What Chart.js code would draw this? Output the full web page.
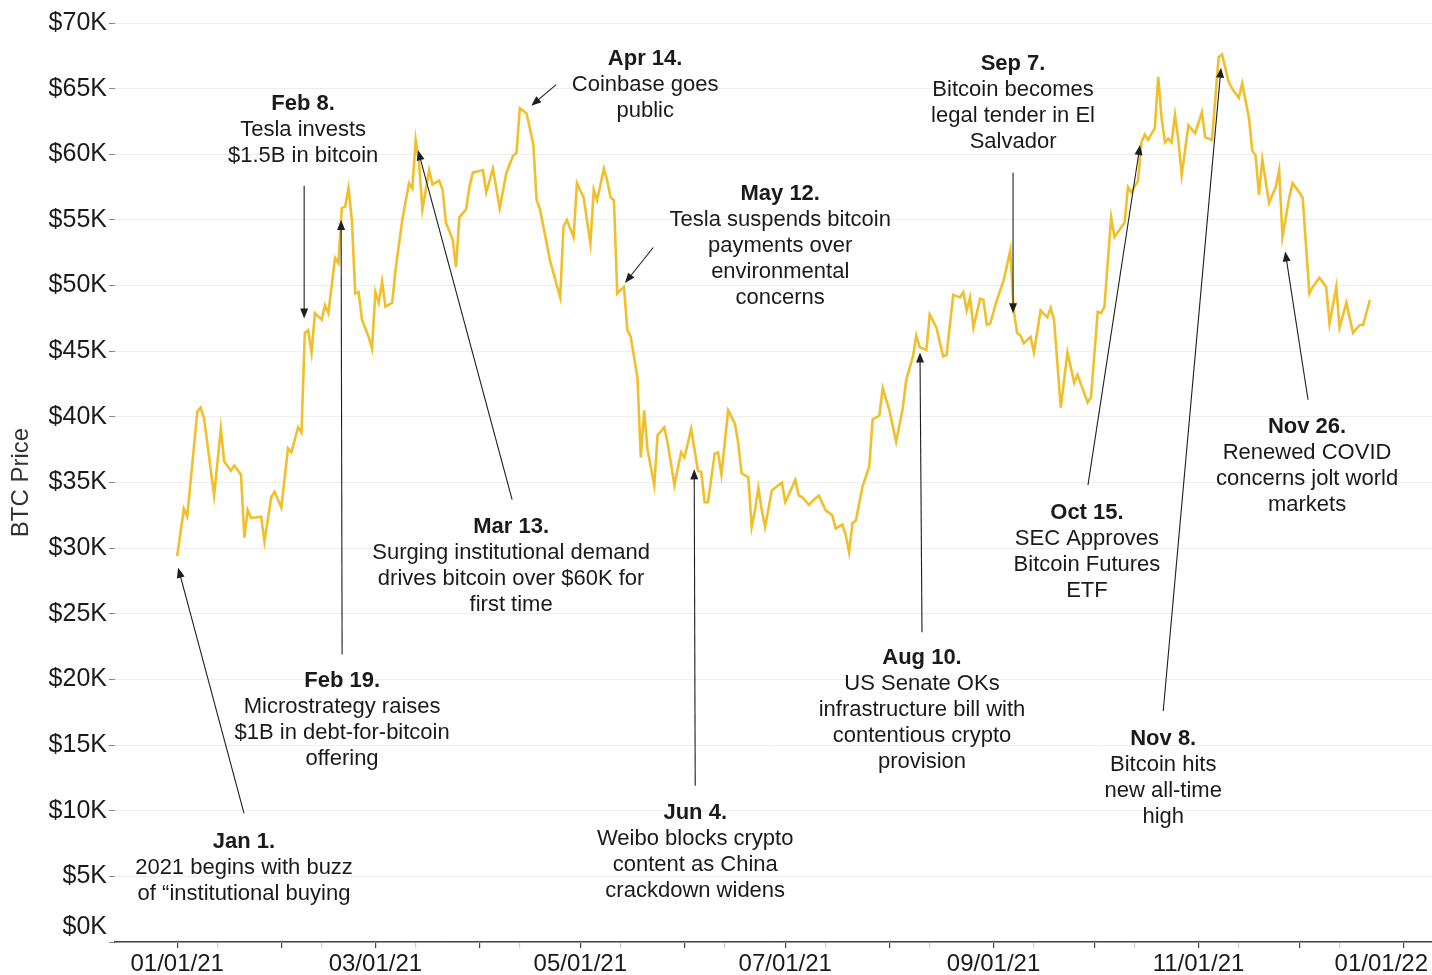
<!DOCTYPE html>
<html>
<head>
<meta charset="utf-8">
<title>BTC Price 2021</title>
<script src="https://cdn.jsdelivr.net/npm/chart.js@4.4.1/dist/chart.umd.min.js"></script>
<style>
  html, body { margin: 0; padding: 0; background: #fff; }
  #chart { display: block; }
</style>
</head>
<body>
<canvas id="chart" width="1432" height="975"></canvas>
<script>
// BTC price through 2021 (thousands of USD)
const dates = [
  '01-01','01-03','01-04','01-07','01-08','01-09','01-12','01-14','01-15','01-17','01-18','01-20','01-21','01-22','01-23','01-26','01-27','01-29','01-30',
  '02-01','02-03','02-04','02-06','02-07','02-08','02-09','02-10','02-11','02-13','02-14','02-15','02-17','02-18','02-19','02-20','02-21','02-22','02-23','02-24','02-25','02-27','02-28',
  '03-01','03-02','03-03','03-04','03-06','03-07','03-09','03-11','03-12','03-13','03-14','03-15','03-17','03-18','03-20','03-21','03-22','03-24','03-25','03-26','03-28','03-29','03-30',
  '04-02','04-03','04-05','04-07','04-09','04-11','04-12','04-13','04-15','04-17','04-18','04-19','04-22','04-25','04-26','04-27','04-29','04-30',
  '05-02','05-04','05-05','05-06','05-08','05-09','05-10','05-11','05-12','05-14','05-15','05-16','05-18','05-19','05-20','05-21','05-23','05-24','05-26','05-27','05-29','05-31',
  '06-01','06-03','06-05','06-06','06-07','06-08','06-10','06-11','06-12','06-14','06-16','06-17','06-18','06-20','06-21','06-22','06-23','06-24','06-25','06-27','06-28','06-30',
  '07-01','07-04','07-05','07-06','07-08','07-10','07-11','07-13','07-15','07-16','07-18','07-19','07-20','07-21','07-22','07-24','07-26','07-27','07-29','07-30',
  '08-01','08-03','08-05','08-06','08-08','08-09','08-10','08-12','08-13','08-15','08-17','08-18','08-20','08-22','08-23','08-24','08-25','08-26','08-28','08-29','08-30','08-31',
  '09-02','09-04','09-06','09-07','09-08','09-09','09-10','09-12','09-13','09-15','09-17','09-18','09-19','09-21','09-23','09-25','09-26','09-29','09-30',
  '10-02','10-03','10-04','10-06','10-07','10-10','10-11','10-12','10-14','10-15','10-16','10-17','10-19','10-20','10-21','10-22','10-23','10-24','10-25','10-26','10-27','10-29','10-31',
  '11-02','11-03','11-05','11-07','11-08','11-10','11-11','11-13','11-14','11-16','11-17','11-18','11-19','11-20','11-22','11-24','11-25','11-26','11-28','11-29',
  '12-01','12-02','12-04','12-05','12-07','12-09','12-10','12-12','12-13','12-15','12-17','12-19','12-20','12-22'
];
const priceK = [
  29.4,33.0,32.4,40.4,40.7,39.9,34.0,39.1,36.6,35.9,36.3,35.6,30.8,32.9,32.3,32.4,30.5,33.9,34.3,
  33.1,37.6,37.3,39.2,38.8,46.4,46.6,44.9,47.9,47.4,48.5,47.9,52.1,51.7,55.9,56.0,57.4,55.0,49.4,49.5,47.4,46.1,45.2,
  49.5,48.7,50.3,48.4,48.7,51.2,55.0,57.8,57.4,61.1,59.3,55.8,58.8,57.7,58.0,57.3,54.8,53.5,51.4,55.2,55.8,57.5,58.6,
  58.8,57.1,58.9,55.9,58.6,59.9,60.1,63.5,63.1,60.8,56.5,55.8,51.9,49.1,54.5,55.0,53.7,57.8,
  56.7,53.2,57.3,56.5,58.9,58.0,56.7,56.5,49.4,49.9,46.6,46.1,43.0,36.9,40.5,37.5,34.8,38.6,39.2,38.0,34.8,37.3,
  36.9,39.1,35.9,35.8,33.5,33.5,37.2,37.3,35.6,40.5,39.5,38.0,35.7,35.4,31.6,32.9,34.6,32.9,31.6,34.4,34.6,35.0,
  33.5,35.2,34.0,33.9,33.3,33.8,34.0,32.9,32.5,31.5,31.8,31.0,29.7,31.9,32.1,34.7,36.2,39.8,40.1,42.2,
  40.5,38.1,40.7,42.8,44.6,46.2,45.3,45.1,47.8,46.8,44.6,44.7,49.3,49.1,49.5,48.1,49.1,46.8,49.0,48.9,47.0,47.1,
  48.9,50.4,52.7,48.1,46.4,46.2,45.6,46.1,44.9,48.1,47.6,48.3,47.4,40.7,44.9,42.6,43.2,41.1,41.5,
  48.0,47.9,48.4,55.2,53.7,54.8,57.5,57.1,58.0,60.9,61.5,61.1,62.0,65.9,62.8,60.9,61.2,60.9,63.0,61.1,58.4,62.2,61.6,
  63.2,61.3,61.1,67.4,67.6,65.5,65.0,64.3,65.4,62.8,60.3,59.9,56.9,59.6,56.3,57.5,58.8,53.7,56.7,57.8,
  57.1,56.7,49.4,49.9,50.6,49.9,47.1,49.9,46.8,48.7,46.4,47.0,47.0,48.9
];

const xTickLabels = ['01/01/21', '03/01/21', '05/01/21', '07/01/21', '09/01/21', '11/01/21', '01/01/22'];

const eventTitles = ['Jan 1.', 'Feb 8.', 'Feb 19.', 'Mar 13.', 'Apr 14.', 'May 12.',
  'Jun 4.', 'Aug 10.', 'Sep 7.', 'Oct 15.', 'Nov 8.', 'Nov 26.'];
const eventTexts = [
  ['2021 begins with buzz', 'of \u201cinstitutional buying'],
  ['Tesla invests', '$1.5B in bitcoin'],
  ['Microstrategy raises', '$1B in debt-for-bitcoin', 'offering'],
  ['Surging institutional demand', 'drives bitcoin over $60K for', 'first time'],
  ['Coinbase goes', 'public'],
  ['Tesla suspends bitcoin', 'payments over', 'environmental', 'concerns'],
  ['Weibo blocks crypto', 'content as China', 'crackdown widens'],
  ['US Senate OKs', 'infrastructure bill with', 'contentious crypto', 'provision'],
  ['Bitcoin becomes', 'legal tender in El', 'Salvador'],
  ['SEC Approves', 'Bitcoin Futures', 'ETF'],
  ['Bitcoin hits', 'new all-time', 'high'],
  ['Renewed COVID', 'concerns jolt world', 'markets']
];

// callout layout in chart units [day of 2021, $K]: text anchor, arrow tail, arrow head
const calloutPos = [
  { label: [19.9, 7.6],   tail: [19.9, 9.8],   head: [0.3, 28.5] },
  { label: [37.5, 63.8],  tail: [37.8, 57.6],  head: [37.8, 47.5] },
  { label: [49.1, 19.9],  tail: [49.1, 21.9],  head: [48.8, 55.0] },
  { label: [99.4, 31.6],  tail: [99.7, 33.7],  head: [71.7, 60.3] },
  { label: [139.3, 67.3], tail: [112.8, 65.3], head: [105.4, 63.7] },
  { label: [179.5, 57.0], tail: [141.7, 52.9], head: [133.3, 50.2] },
  { label: [154.2, 9.8],  tail: [154.2, 11.9], head: [153.9, 36.0] },
  { label: [221.7, 21.6], tail: [221.7, 23.6], head: [221.1, 44.9] },
  { label: [248.8, 66.9], tail: [248.8, 58.6], head: [248.8, 47.9] },
  { label: [270.8, 32.7], tail: [271.1, 34.8], head: [286.6, 60.7] },
  { label: [293.5, 15.5], tail: [293.5, 17.6], head: [310.7, 66.6] },
  { label: [336.3, 39.2], tail: [336.6, 41.3], head: [329.8, 52.6] }
];

const FONT = '"Liberation Sans", Arial, Helvetica, sans-serif';
const DAY = 864e5;
const T0 = Date.UTC(2021, 0, 1);

function dayOf(mmdd) {
  const [m, d] = mmdd.split('-').map(Number);
  return (Date.UTC(2021, m - 1, d) - T0) / DAY;
}
function dayOfLabel(s) { // MM/DD/YY
  const [m, d, y] = s.split('/').map(Number);
  return (Date.UTC(2000 + y, m - 1, d) - T0) / DAY;
}

const points = dates.map((d, i) => ({ x: dayOf(d), y: priceK[i] }));

// monthly ticks plus the faint mid-month ones
const monthTicks = [];
const minorTicks = [];
for (let m = 0; m <= 12; m++) {
  monthTicks.push((Date.UTC(2021, m, 1) - T0) / DAY);
  if (m < 12) minorTicks.push((Date.UTC(2021, m, 13) - T0) / DAY);
}
const labelDays = xTickLabels.map(dayOfLabel);

const calloutPlugin = {
  id: 'callouts',
  afterDatasetsDraw(chart) {
    const { ctx, scales: { x, y } } = chart;
    ctx.save();
    calloutPos.forEach((p, i) => {
      const tx = x.getPixelForValue(p.tail[0]), ty = y.getPixelForValue(p.tail[1]);
      const hx = x.getPixelForValue(p.head[0]), hy = y.getPixelForValue(p.head[1]);
      const a = Math.atan2(hy - ty, hx - tx);
      const len = 10, half = 4;
      ctx.strokeStyle = '#1e1e1e';
      ctx.fillStyle = '#1e1e1e';
      ctx.lineWidth = 1.1;
      ctx.beginPath();
      ctx.moveTo(tx, ty);
      ctx.lineTo(hx - Math.cos(a) * len * 0.6, hy - Math.sin(a) * len * 0.6);
      ctx.stroke();
      ctx.beginPath();
      ctx.moveTo(hx, hy);
      ctx.lineTo(hx - len * Math.cos(a) + half * Math.sin(a), hy - len * Math.sin(a) - half * Math.cos(a));
      ctx.lineTo(hx - len * Math.cos(a) - half * Math.sin(a), hy - len * Math.sin(a) + half * Math.cos(a));
      ctx.closePath();
      ctx.fill();

      const lx = x.getPixelForValue(p.label[0]);
      const ly = y.getPixelForValue(p.label[1]);
      ctx.fillStyle = '#1a1a1a';
      ctx.textAlign = 'center';
      ctx.textBaseline = 'middle';
      ctx.font = 'bold 22px ' + FONT;
      ctx.fillText(eventTitles[i], lx, ly);
      ctx.font = '22px ' + FONT;
      eventTexts[i].forEach((t, j) => ctx.fillText(t, lx, ly + 26 * (j + 1)));
    });
    ctx.restore();
  }
};

// x labels drawn by hand so the last one can be pulled inside the canvas
const axisLabelPlugin = {
  id: 'axisLabels',
  afterDraw(chart) {
    const { ctx, scales: { x, y } } = chart;
    ctx.save();
    ctx.fillStyle = '#1a1a1a';
    ctx.font = '24px ' + FONT;
    ctx.textBaseline = 'top';
    ctx.textAlign = 'center';
    const maxRight = chart.width - 4;
    xTickLabels.forEach((txt, i) => {
      let px = x.getPixelForValue(labelDays[i]);
      const w = ctx.measureText(txt).width;
      if (px + w / 2 > maxRight) px = maxRight - w / 2;
      ctx.fillText(txt, px, x.top + 10);
    });
    // the zero label sits a little above the axis line
    ctx.font = '25px ' + FONT;
    ctx.textAlign = 'right';
    ctx.textBaseline = 'middle';
    ctx.fillText('$0K', y.right - 8, y.getPixelForValue(0) - 15);
    ctx.restore();
  }
};

Chart.defaults.font.family = FONT;

new Chart(document.getElementById('chart'), {
  type: 'line',
  data: {
    datasets: [{
      label: 'BTC Price',
      data: points,
      borderColor: '#F1BF2B',
      borderWidth: 2.6,
      pointRadius: 0,
      tension: 0,
      fill: false
    }]
  },
  options: {
    responsive: false,
    animation: false,
    devicePixelRatio: 1,
    layout: { padding: { top: 23, left: 0, right: 0, bottom: 0 } },
    plugins: {
      legend: { display: false },
      tooltip: { enabled: false }
    },
    scales: {
      x: {
        type: 'linear',
        min: -18.5,
        max: 373.5,
        afterBuildTicks: (s) => {
          s.ticks = monthTicks.concat(minorTicks).sort((a, b) => a - b).map(v => ({ value: v }));
        },
        ticks: { display: false },
        grid: {
          drawOnChartArea: false,
          tickLength: 6,
          lineWidth: 1.2,
          tickColor: (c) => (c.tick && minorTicks.includes(c.tick.value)) ? '#cfcfcf' : '#444'
        },
        border: { display: true, color: '#444', width: 1.5 },
        afterFit: (s) => { s.height = 33; s.paddingLeft = 0; s.paddingRight = 0; }
      },
      y: {
        min: 0,
        max: 70,
        ticks: {
          stepSize: 5,
          color: '#1a1a1a',
          padding: 2,
          font: { size: 25 },
          callback: (v) => v === 0 ? '' : '$' + v + 'K'
        },
        grid: { color: '#eeeeee', lineWidth: 1, tickColor: '#888', tickLength: 6 },
        border: { display: false },
        title: {
          display: true,
          text: 'BTC Price',
          color: '#333',
          font: { size: 24 },
          padding: { top: 7, bottom: 0 }
        },
        afterFit: (s) => { s.width = 115; }
      }
    }
  },
  plugins: [calloutPlugin, axisLabelPlugin]
});
</script>
</body>
</html>
